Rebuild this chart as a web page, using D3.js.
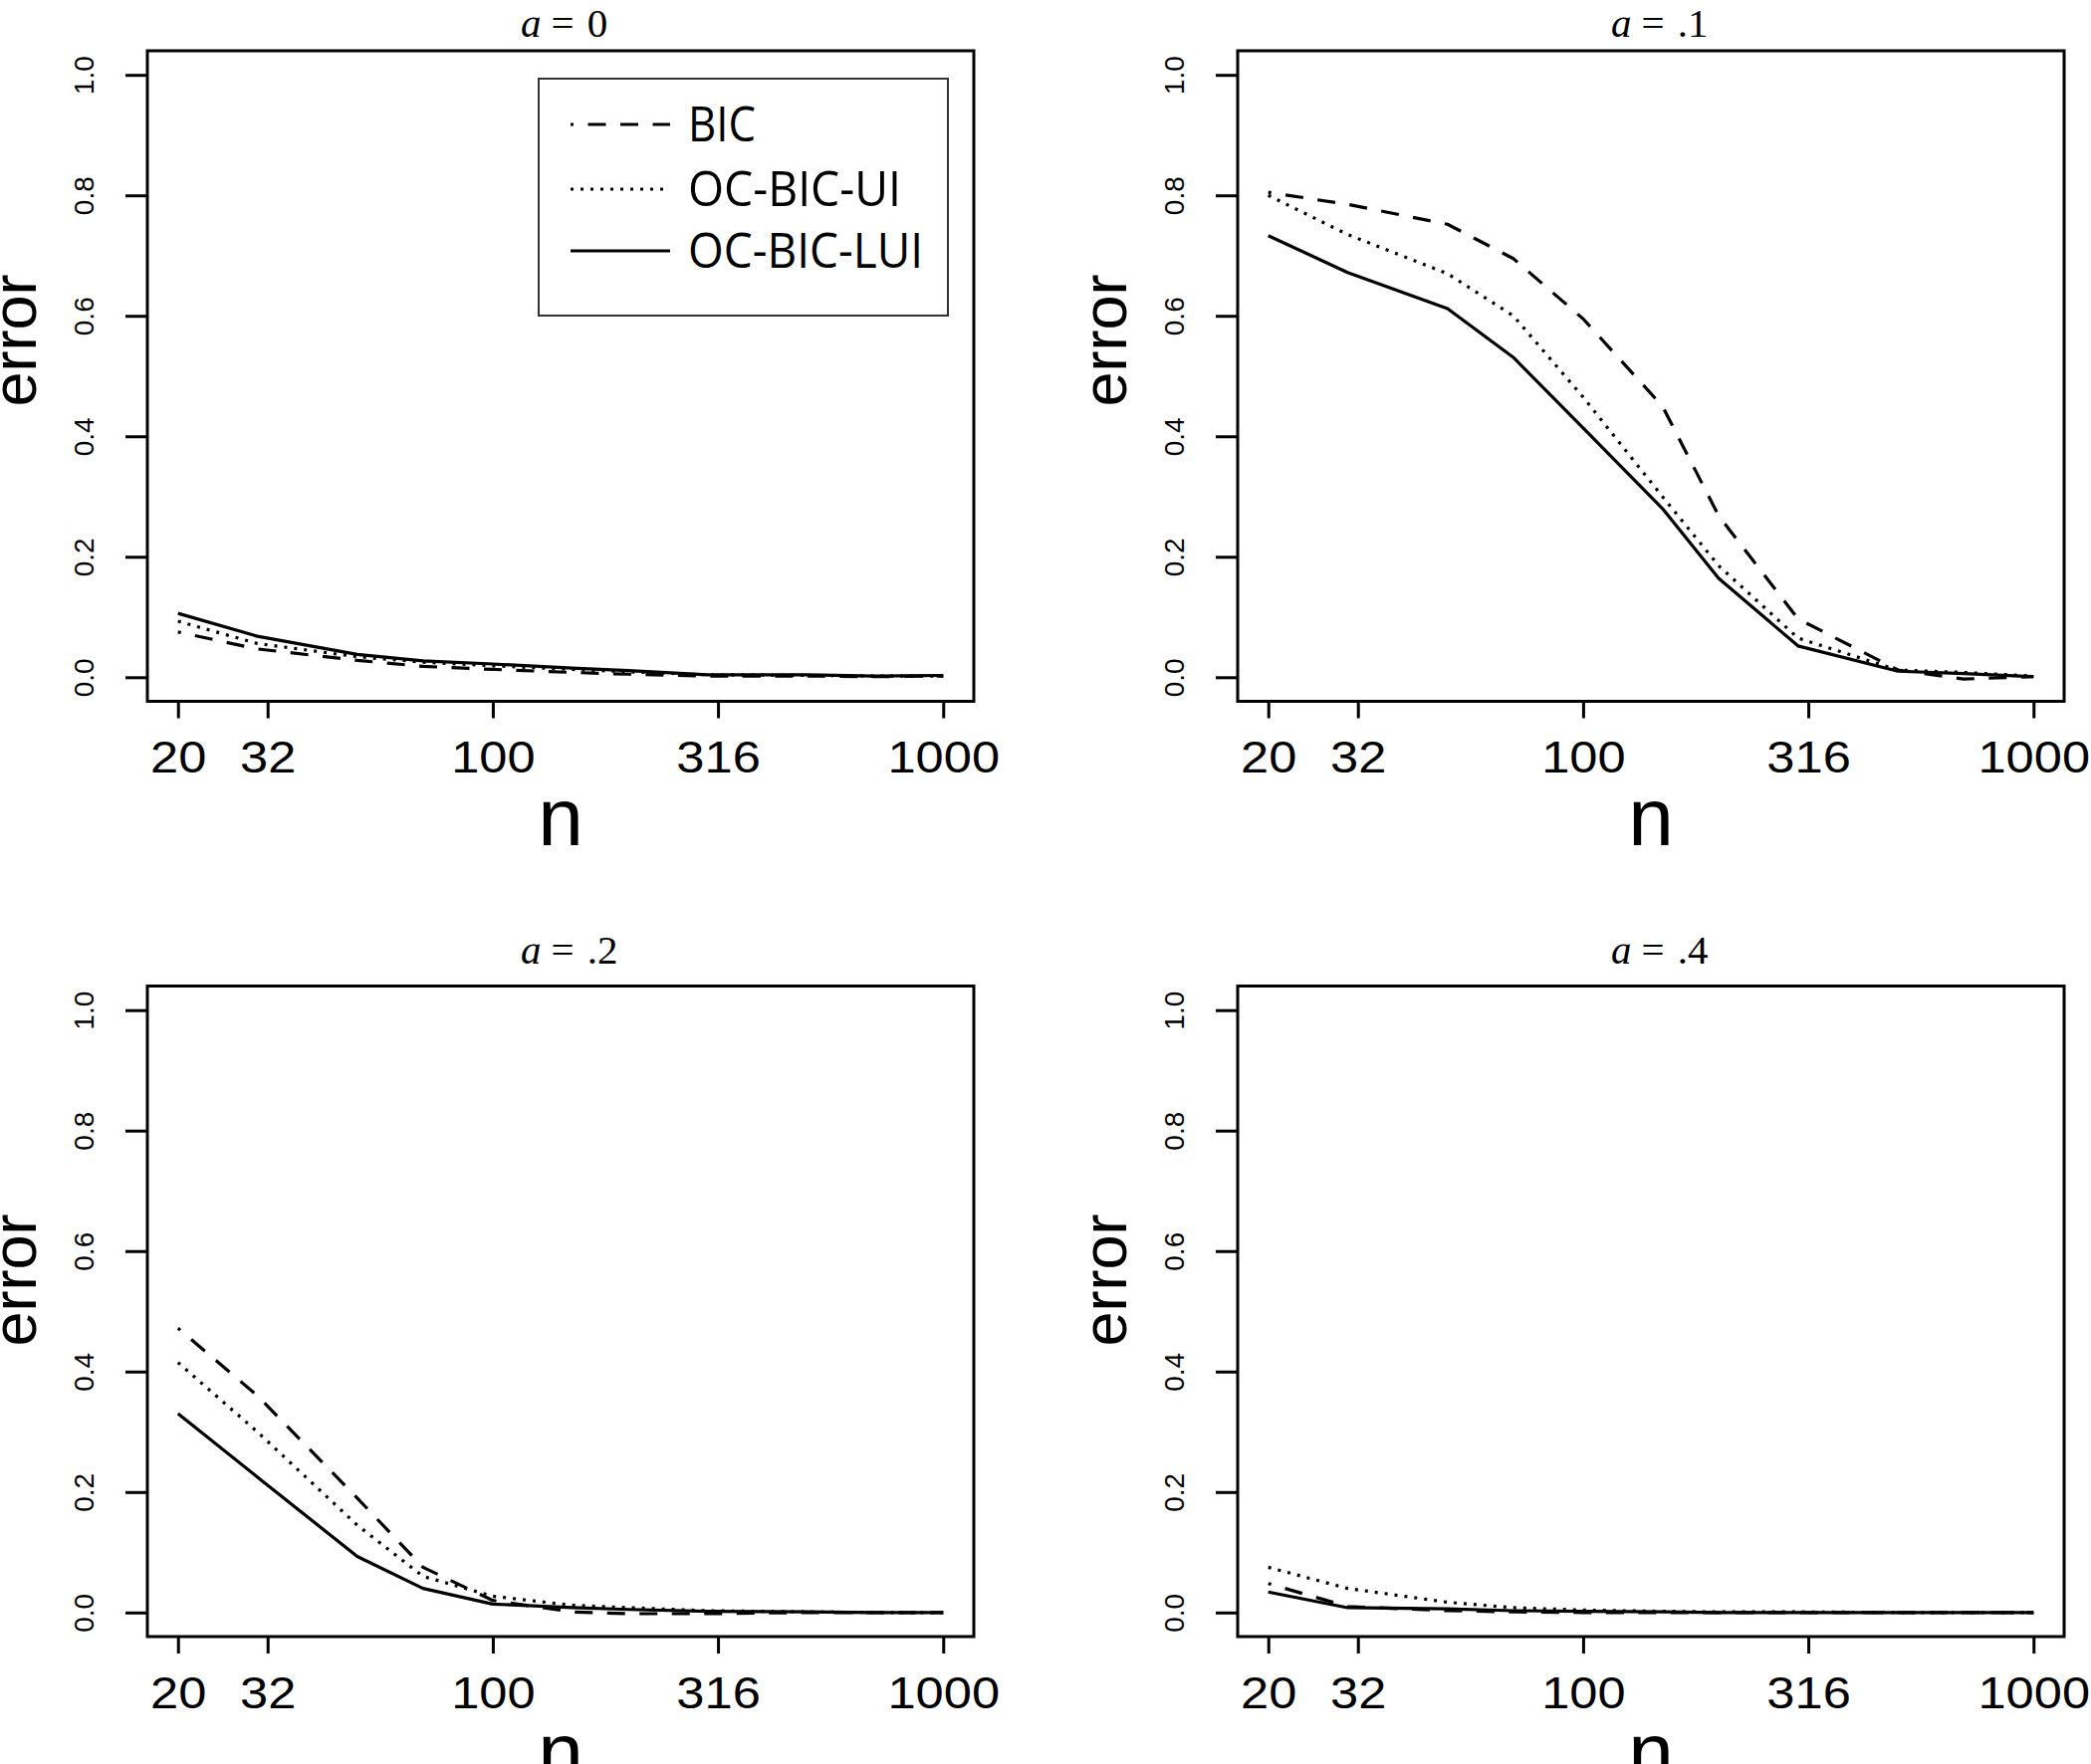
<!DOCTYPE html>
<html>
<head>
<meta charset="utf-8">
<script src="https://cdn.jsdelivr.net/npm/d3@7"></script>
<style>
  html, body { margin: 0; padding: 0; background: #fff; }
  svg { display: block; }
</style>
</head>
<body>
<svg id="chart" width="2100" height="1772"></svg>
<script>
// ---------------- data ----------------
const nValues = [20, 30, 50, 70, 100, 150, 200, 300, 500, 700, 1000];
const xTickValues = [20, 31.62, 100, 316.2, 1000];
const xTickLabels = ["20", "32", "100", "316", "1000"];
const yTickValues = [0, 0.2, 0.4, 0.6, 0.8, 1.0];
const panelLabels = ["0", ".1", ".2", ".4"];
const seriesNames = ["BIC", "OC-BIC-UI", "OC-BIC-LUI"];

const bic_a0 = [0.075, 0.047, 0.028, 0.018, 0.013, 0.008, 0.005, 0.002, 0.002, 0.001, 0.002];
const ui_a0  = [0.093, 0.056, 0.034, 0.025, 0.019, 0.013, 0.009, 0.004, 0.003, 0.002, 0.002];
const lui_a0 = [0.106, 0.068, 0.038, 0.027, 0.022, 0.015, 0.011, 0.004, 0.004, 0.002, 0.003];

const bic_a1 = [0.805, 0.785, 0.752, 0.695, 0.595, 0.450, 0.268, 0.097, 0.012, -0.003, 0.001];
const ui_a1  = [0.800, 0.735, 0.670, 0.600, 0.465, 0.300, 0.185, 0.065, 0.012, 0.008, 0.002];
const lui_a1 = [0.733, 0.672, 0.612, 0.531, 0.414, 0.280, 0.164, 0.052, 0.010, 0.006, 0.001];

const bic_a2 = [0.472, 0.360, 0.190, 0.075, 0.020, 0.001, -0.002, -0.002, 0.000, 0.000, 0.000];
const ui_a2  = [0.415, 0.300, 0.145, 0.060, 0.027, 0.012, 0.008, 0.003, 0.001, 0.000, 0.000];
const lui_a2 = [0.330, 0.225, 0.093, 0.040, 0.014, 0.008, 0.005, 0.002, 0.001, 0.000, 0.000];

const bic_a4 = [0.048, 0.010, 0.003, 0.001, 0.000, 0.000, 0.000, 0.000, 0.000, 0.000, 0.000];
const ui_a4  = [0.075, 0.040, 0.017, 0.008, 0.004, 0.002, 0.001, 0.001, 0.000, 0.000, 0.000];
const lui_a4 = [0.034, 0.008, 0.006, 0.003, 0.002, 0.001, 0.000, 0.000, 0.000, 0.000, 0.000];

const panelSeries = [
  [bic_a0, ui_a0, lui_a0],
  [bic_a1, ui_a1, lui_a1],
  [bic_a2, ui_a2, lui_a2],
  [bic_a4, ui_a4, lui_a4]
];

// ---------------- layout ----------------
const cols = [{ left: 148, right: 978 }, { left: 1243, right: 2073 }];
const rows = [{ top: 51, bottom: 704.5, titleY: 37, errY: 342 },
              { top: 990.5, bottom: 1644, titleY: 968, errY: 1286 }];
const seriesStyle = [
  { dash: "18,14.5", offset: 15 },
  { dash: "3,7", offset: 0 },
  { dash: null, offset: 0 }
];

const svg = d3.select("#chart");
const sansFont = "'Liberation Sans', Arial, Helvetica, sans-serif";
const serifFont = "'Liberation Serif', 'Times New Roman', serif";

panelSeries.forEach((series, pi) => {
  const col = cols[pi % 2], row = rows[Math.floor(pi / 2)];
  const ext = (col.right - col.left) * 0.04 / 1.08;
  const x = d3.scaleLog().domain([20, 1000]).range([col.left + ext, col.right - ext]);
  const extY = (row.bottom - row.top) * 0.04 / 1.08;
  const y = d3.scaleLinear().domain([0, 1]).range([row.bottom - extY, row.top + extY]);

  const g = svg.append("g");

  // x axis
  const xa = g.append("g")
    .attr("transform", `translate(0,${row.bottom})`)
    .call(d3.axisBottom(x).tickValues(xTickValues)
      .tickFormat((d, i) => xTickLabels[i]).tickSize(17));
  xa.select(".domain").remove();
  xa.selectAll(".tick line").attr("stroke", "#000").attr("stroke-width", 3);
  xa.selectAll(".tick text")
    .attr("y", 72).attr("dy", 0)
    .attr("fill", "#000")
    .attr("font-family", sansFont).attr("font-size", 44)
    .attr("transform", "scale(1.15,1)");

  // y axis
  const ya = g.append("g")
    .attr("transform", `translate(${col.left},0)`)
    .call(d3.axisLeft(y).tickValues(yTickValues).tickFormat(d3.format(".1f")).tickSize(22));
  ya.select(".domain").remove();
  ya.selectAll(".tick line").attr("stroke", "#000").attr("stroke-width", 3);
  ya.selectAll(".tick text")
    .attr("transform", "rotate(-90)")
    .attr("x", 0).attr("y", -54).attr("dy", 0)
    .attr("text-anchor", "middle")
    .attr("fill", "#000")
    .attr("font-family", sansFont).attr("font-size", 28);

  // box
  g.append("rect")
    .attr("x", col.left).attr("y", row.top)
    .attr("width", col.right - col.left).attr("height", row.bottom - row.top)
    .attr("fill", "none").attr("stroke", "#000").attr("stroke-width", 3);

  // lines
  const line = d3.line().x(d => x(d.n)).y(d => y(d.v));
  series.forEach((vals, si) => {
    const pts = nValues.map((n, k) => ({ n: n, v: vals[k] }));
    const p = g.append("path").datum(pts)
      .attr("d", line)
      .attr("fill", "none").attr("stroke", "#000")
      .attr("stroke-width", 3.2).attr("stroke-linejoin", "round");
    const st = seriesStyle[si];
    if (st.dash) p.attr("stroke-dasharray", st.dash).attr("stroke-dashoffset", st.offset);
  });

  // title
  const t = g.append("text")
    .attr("x", col.left + 375).attr("y", row.titleY)
    .attr("font-family", serifFont).attr("font-size", 41).attr("fill", "#000");
  t.append("tspan").attr("font-style", "italic").text("a");
  t.append("tspan").attr("dx", 10).text("=");
  t.append("tspan").attr("dx", 13).text(panelLabels[pi]);

  // axis titles
  g.append("text")
    .attr("x", (col.left + col.right) / 2).attr("y", row.bottom + 144)
    .attr("text-anchor", "middle")
    .attr("font-family", sansFont).attr("font-size", 82).attr("fill", "#000")
    .text("n");
  g.append("text")
    .attr("transform", `translate(${col.left - 112},${row.errY}) rotate(-90)`)
    .attr("text-anchor", "middle")
    .attr("font-family", sansFont).attr("font-size", 63).attr("fill", "#000")
    .text("error");
});

// ---------------- legend (first panel) ----------------
const leg = svg.append("g");
leg.append("rect")
  .attr("x", 541).attr("y", 79).attr("width", 411).attr("height", 238)
  .attr("fill", "none").attr("stroke", "#333").attr("stroke-width", 2);
const legY = [125, 190, 252];
const legW = [68, 214, 236];
seriesNames.forEach((name, i) => {
  const st = seriesStyle[i];
  const l = leg.append("line")
    .attr("x1", 573).attr("x2", 673).attr("y1", legY[i]).attr("y2", legY[i])
    .attr("stroke", "#000").attr("stroke-width", 3);
  if (st.dash) l.attr("stroke-dasharray", st.dash).attr("stroke-dashoffset", st.offset);
  leg.append("text")
    .attr("x", 691).attr("y", legY[i] + 17)
    .attr("font-family", "'Open Sans', 'Noto Sans', sans-serif").attr("font-size", 50)
    .attr("fill", "#000")
    .attr("textLength", legW[i]).attr("lengthAdjust", "spacingAndGlyphs")
    .text(name);
});
</script>
</body>
</html>
